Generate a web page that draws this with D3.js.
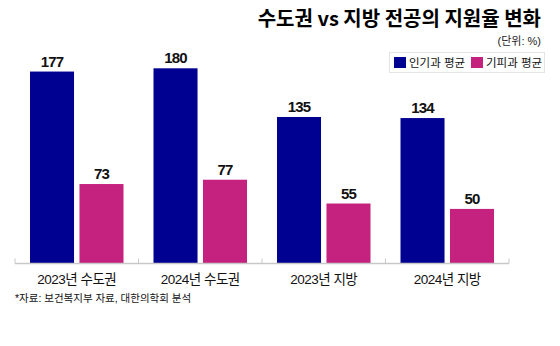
<!DOCTYPE html>
<html>
<head>
<meta charset="utf-8">
<title>수도권 vs 지방 전공의 지원율 변화</title>
<script src="https://cdn.jsdelivr.net/npm/d3@7"></script>
<style>
  body { margin: 0; background: #fff; }
  svg { display: block; font-family: "Liberation Sans", "Noto Sans CJK KR", sans-serif; }
</style>
</head>
<body>
<svg id="chart" width="560" height="346"></svg>
<script>
// data
const categories = ["2023년 수도권", "2024년 수도권", "2023년 지방", "2024년 지방"];
const seriesNames = ["인기과 평균", "기피과 평균"];
const popular = [177, 180, 135, 134];
const avoided = [73, 77, 55, 50];
const colors = ["#000091", "#c5217f"];

const svg = d3.select("#chart");
const baseY = 263;

const x0 = d3.scaleBand().domain(categories).range([15, 509]).padding(0);
const x1 = d3.scaleBand().domain(seriesNames).range([15, x0.bandwidth() - 15]).paddingInner(0.11);
const y = d3.scaleLinear().domain([0, 180]).range([baseY, 68.3]);

const rows = categories.map((c, i) => ({ cat: c, vals: [popular[i], avoided[i]] }));

// title
svg.append("text")
  .attr("x", 541).attr("y", 26)
  .attr("text-anchor", "end")
  .style("font-size", "20px").style("font-weight", "bold")
  .style("font-family", "'Noto Sans CJK KR', sans-serif")
  .text("수도권 vs 지방 전공의 지원율 변화");

svg.append("text")
  .attr("x", 541).attr("y", 45)
  .attr("text-anchor", "end")
  .style("font-size", "11px").attr("fill", "#222")
  .text("(단위: %)");

// legend
const leg = svg.append("g");
leg.append("rect")
  .attr("x", 389.5).attr("y", 52.5).attr("width", 155).attr("height", 20)
  .attr("fill", "none").attr("stroke", "#e4e4e4");
const legX = [394, 471];
seriesNames.forEach((s, i) => {
  leg.append("rect")
    .attr("x", legX[i]).attr("y", 57).attr("width", 12).attr("height", 11)
    .attr("fill", colors[i]);
  leg.append("text")
    .attr("x", legX[i] + 15).attr("y", 67)
    .style("font-size", "11.5px").attr("fill", "#111")
    .text(s);
});

// bars
const groups = svg.selectAll("g.grp").data(rows).join("g")
  .attr("class", "grp")
  .attr("transform", d => `translate(${x0(d.cat)},0)`);

groups.selectAll("rect").data(d => d.vals.map((v, i) => ({ key: seriesNames[i], v, i })))
  .join("rect")
  .attr("x", d => x1(d.key))
  .attr("y", d => y(d.v))
  .attr("width", x1.bandwidth())
  .attr("height", d => baseY - y(d.v))
  .attr("fill", d => colors[d.i]);

groups.selectAll("text.val").data(d => d.vals.map((v, i) => ({ key: seriesNames[i], v, i })))
  .join("text")
  .attr("class", "val")
  .attr("x", d => x1(d.key) + x1.bandwidth() / 2)
  .attr("y", d => y(d.v) - 5)
  .attr("text-anchor", "middle")
  .style("font-size", "15px").style("font-weight", "bold")
  .style("letter-spacing", "-0.8px")
  .attr("fill", "#111")
  .text(d => d.v);

// x axis
const axis = svg.append("g").attr("transform", `translate(0,${baseY + 0.5})`);
axis.append("line")
  .attr("x1", 15).attr("x2", 509)
  .attr("stroke", "#c8c8c8").attr("stroke-width", 1.5);
const ticks = categories.map(c => x0(c)).concat([509]);
axis.selectAll("line.tick").data(ticks).join("line")
  .attr("class", "tick")
  .attr("x1", d => d).attr("x2", d => d)
  .attr("y1", -5).attr("y2", 0)
  .attr("stroke", "#c8c8c8");
axis.selectAll("text").data(categories).join("text")
  .attr("x", d => x0(d) + x0.bandwidth() / 2)
  .attr("y", 20)
  .attr("text-anchor", "middle")
  .style("font-size", "13.5px").style("letter-spacing", "-0.5px")
  .attr("fill", "#111")
  .text(d => d);

// source
svg.append("text")
  .attr("x", 15).attr("y", 302)
  .style("font-size", "10.5px").attr("fill", "#111")
  .text("*자료: 보건복지부 자료, 대한의학회 분석");
</script>
</body>
</html>
